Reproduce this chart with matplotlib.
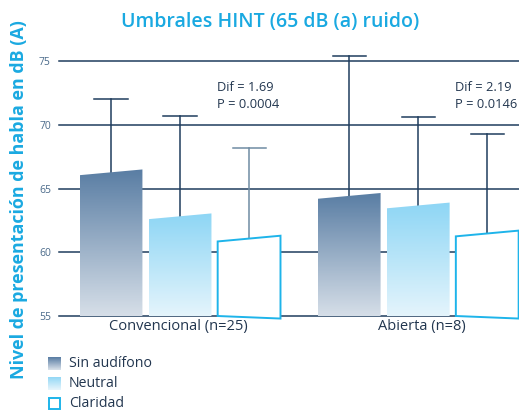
import numpy as np
import matplotlib
matplotlib.use("Agg")
import matplotlib.pyplot as plt
from matplotlib.patches import Polygon
from matplotlib.colors import LinearSegmentedColormap

groups = ["Convencional (n=25)", "Abierta (n=8)"]
series = ["Sin audífono", "Neutral", "Claridad"]
means = {
    "Sin audífono": [66.25, 64.4],
    "Neutral": [62.8, 63.65],
    "Claridad": [61.05, 61.45],
}
sd = {
    "Sin audífono": [5.75, 11.0],
    "Neutral": [7.9, 6.95],
    "Claridad": [7.15, 7.85],
}
notes = [("Dif = 1.69", "P = 0.0004"), ("Dif = 2.19", "P = 0.0146")]

plt.rcParams['font.family'] = ['Open Sans', 'DejaVu Sans']

grad = {
    "Sin audífono": ("#d8e0e9", "#5a7ea4"),
    "Neutral": ("#e6f5fc", "#8ed6f5"),
    "Claridad": None,
}
edge_cyan = "#1eb4ea"
navy = "#1f3d5e"
cyan_text = "#1aa9e1"
dark_text = "#22364f"

fig = plt.figure(figsize=(5.19, 4.12), dpi=100)
ax = fig.add_axes([62 / 519, 1 - 316 / 412, 1 - 62 / 519, (316 - 42) / 412])

group_x = np.array([0.0, 3.45])
width = 0.91
ymin, ymax = 55, 76.5

for t in [55, 60, 65, 70, 75]:
    ax.plot([-1.75, 5.0], [t, t], color=navy, lw=1.1, zorder=1, clip_on=False)

for i, name in enumerate(series):
    for g in range(len(groups)):
        xc = group_x[g] + (i - 1)
        x0, x1 = xc - width / 2, xc + width / 2
        m = means[name][g]
        top = m + sd[name][g]
        ecol = "#6f8ca3" if (name == "Claridad" and g == 0) else navy
        ax.plot([xc, xc], [m, top], color=ecol, lw=1.1, zorder=2)
        ax.plot([xc - 0.24, xc + 0.24], [top, top], color=ecol, lw=1.1, zorder=2)

        verts = [(x0, 55), (x0, m - 0.2), (x1, m + 0.25), (x1, 54.8)]
        if grad[name] is None:
            poly = Polygon(verts, closed=True, facecolor="white", edgecolor=edge_cyan,
                           lw=1.4, zorder=3, clip_on=False)
            ax.add_patch(poly)
        else:
            poly = Polygon(verts, closed=True, facecolor="none", edgecolor="none",
                           zorder=3, clip_on=False)
            ax.add_patch(poly)
            cmap = LinearSegmentedColormap.from_list(name, grad[name])
            img = ax.imshow(np.linspace(0, 1, 100).reshape(-1, 1), cmap=cmap,
                            extent=[x0, x1, 54.8, m + 0.25], origin="lower",
                            aspect="auto", zorder=3)
            img.set_clip_path(poly)
            img.set_clip_on(True)

for g, (a, b) in enumerate(notes):
    ax.text(group_x[g] + 0.54, 72.9, a, fontsize=9.3, color=dark_text, va="center")
    ax.text(group_x[g] + 0.54, 71.6, b, fontsize=9.3, color=dark_text, va="center")

ax.set_xlim(-1.71, 4.91)
ax.set_ylim(ymin, ymax)
ax.set_xticks(group_x + [-0.03, 0.05])
ax.set_xticklabels(groups, fontsize=10.5, color=dark_text)
ax.set_yticks([55, 60, 65, 70, 75])
ax.tick_params(axis="y", labelsize=7.5, labelcolor="#4a6a8a", length=0, pad=8)
ax.tick_params(axis="x", length=0, pad=2)
for s in ax.spines.values():
    s.set_visible(False)

fig.text(270 / 519, 1 - 22 / 412, "Umbrales HINT (65 dB (a) ruido)", ha="center", va="center",
         fontsize=14, fontweight="semibold", color=cyan_text)
fig.text(19 / 519, 1 - 200 / 412, "Nivel de presentación de habla en dB (A)", ha="center",
         va="center", rotation=90, fontsize=12.9, fontweight="bold", color=cyan_text)

# legend
leg_y = [357, 377, 397]
for name, yp in zip(series, leg_y):
    lax = fig.add_axes([48 / 519, 1 - (yp + 13) / 412, 13 / 519, 13 / 412])
    lax.set_axis_off()
    if grad[name] is None:
        lax.add_patch(plt.Rectangle((0.05, 0.05), 0.9, 0.9, facecolor="white",
                                    edgecolor=edge_cyan, lw=1.4))
        lax.set_xlim(0, 1)
        lax.set_ylim(0, 1)
    else:
        cmap = LinearSegmentedColormap.from_list(name + "l", grad[name])
        lax.imshow(np.linspace(0, 1, 20).reshape(-1, 1), cmap=cmap, origin="lower",
                   aspect="auto", extent=[0, 1, 0, 1])
    fig.text(69 / 519, 1 - (yp + 6.5) / 412, name, fontsize=10.2, color=dark_text, va="center")

fig.savefig("out.png", dpi=100)
